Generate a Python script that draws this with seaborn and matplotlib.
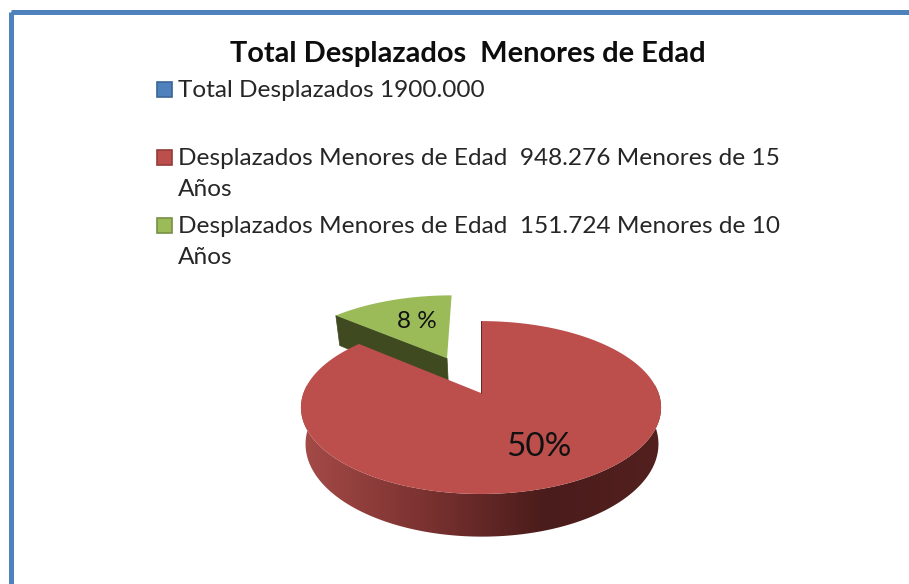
import matplotlib

matplotlib.use("Agg")
import numpy as np
import seaborn as sns
from matplotlib import pyplot as plt
from matplotlib.colors import LinearSegmentedColormap
from matplotlib.patches import Polygon, Rectangle

# datos del grafico
title_text = "Total Desplazados  Menores de Edad"
legend_labels = [
    "Total Desplazados 1900.000",
    "Desplazados Menores de Edad  948.276 Menores de 15\nAños",
    "Desplazados Menores de Edad  151.724 Menores de 10\nAños",
]
slice_values = [0, 948.276, 151.724]
slice_explode = [0, 0, 0.49]
slice_labels = ["", "50%", "8 %"]
slice_colors = ["#4F81BD", "#BC4F4C", "#9BBB59"]
legend_edges = ["#3A6596", "#943C3A", "#769045"]
side_colors = ["#A64B48", "#7C3331", "#4A1C1B", "#53201F"]
green_side = "#3F4A20"
frame_color = "#4F81BD"

# posicion del pastel en pixeles
cx, cy = 481, 393
rx, ry = 177.5, 84
persp = 0.168
depth = 35.5


def project(u, v, drop=0.0):
    # perspectiva simple: lo de atras queda mas chico
    s = 1 / (1 + persp * v)
    squeeze = 1 - 0.02 * (drop > 0)
    return cx + 1 * (drop > 0) + rx * u * s * squeeze, cy - ry * v * s + drop * s


def arc_points(wedge, n=160):
    t = np.radians(np.linspace(wedge.theta1, wedge.theta2, n))
    return wedge.center[0] + np.cos(t), wedge.center[1] + np.sin(t)


sns.set_theme(style="white")
plt.rcParams["font.family"] = ["Lato", "DejaVu Sans"]

fig = plt.figure(figsize=(9.09, 5.84), dpi=100)
ax = fig.add_axes([0, 0, 1, 1])

wedges, _ = ax.pie(slice_values, explode=slice_explode, startangle=90, counterclock=False, colors=slice_colors)
for w in wedges:
    w.set_visible(False)
red, green = wedges[1], wedges[2]

# marco azul
ax.add_patch(Rectangle((11, 11.5), 1200, 900, fill=False, ec=frame_color, lw=3.6, zorder=1))

# porcion verde con su cara de corte
gu, gv = arc_points(green)
end = np.argmin(gu)
a0, b0 = green.center
cut_top = [project(a0, b0), project(gu[end], gv[end])]
cut_bottom = [project(gu[end], gv[end], depth), project(a0, b0, depth)]
ax.add_patch(Polygon(cut_top + cut_bottom, fc=green_side, ec=green_side, lw=0.5, zorder=2))
gx, gy = project(gu, gv)
ax.add_patch(Polygon(np.r_[[project(a0, b0)], np.c_[gx, gy]], fc=slice_colors[2], ec="none", zorder=3))

# lado de la porcion roja con degradado
ru, rv = arc_points(red, 420)
tx, ty = project(ru, rv)
bx, by = project(ru, rv, depth)
front = rv <= 0.25
side_poly = Polygon(np.r_[np.c_[tx[front], ty[front]], np.c_[bx[front], by[front]][::-1]], fc="none", ec="none")
ax.add_patch(side_poly)
side_cmap = LinearSegmentedColormap.from_list("lado", side_colors)
grad = ax.imshow(
    np.linspace(0, 1, 256)[None, :],
    extent=(298, 668, 545, 385),
    cmap=side_cmap,
    aspect="auto",
    zorder=4,
)
grad.set_clip_path(side_poly)

# cara superior roja
ax.add_patch(Polygon(np.r_[[project(0, 0)], np.c_[tx, ty]], fc=slice_colors[1], ec="none", zorder=5))
ax.plot([cx, cx], [cy - ry / (1 + persp), cy], color="#5A2120", lw=0.6, zorder=6)

# etiquetas de las porciones
ax.text(417, 321, slice_labels[2], fontsize=17.5, color="#111111", ha="center", va="center", zorder=7)
ax.text(539, 447, slice_labels[1], fontsize=24, color="#111111", ha="center", va="center", zorder=7)

# titulo y leyenda
ax.text(467.5, 54, title_text, fontsize=20.9, fontweight="bold", color="#0D0D0D", ha="center", va="center", zorder=7)
legend_y = [89, 157, 225]
for label, y, fc, ec in zip(legend_labels, legend_y, slice_colors, legend_edges, strict=True):
    ax.add_patch(Rectangle((157, y - 7.5), 15, 15, fc=fc, ec=ec, lw=1.2, zorder=7))
    ax.text(178, y - 9, label, fontsize=17.6, color="#262626", ha="left", va="top", linespacing=1.6, zorder=7)

ax.set_aspect("auto")
ax.set_xlim(0, 909)
ax.set_ylim(584, 0)
ax.axis("off")

fig.savefig("out.png", dpi=100)
